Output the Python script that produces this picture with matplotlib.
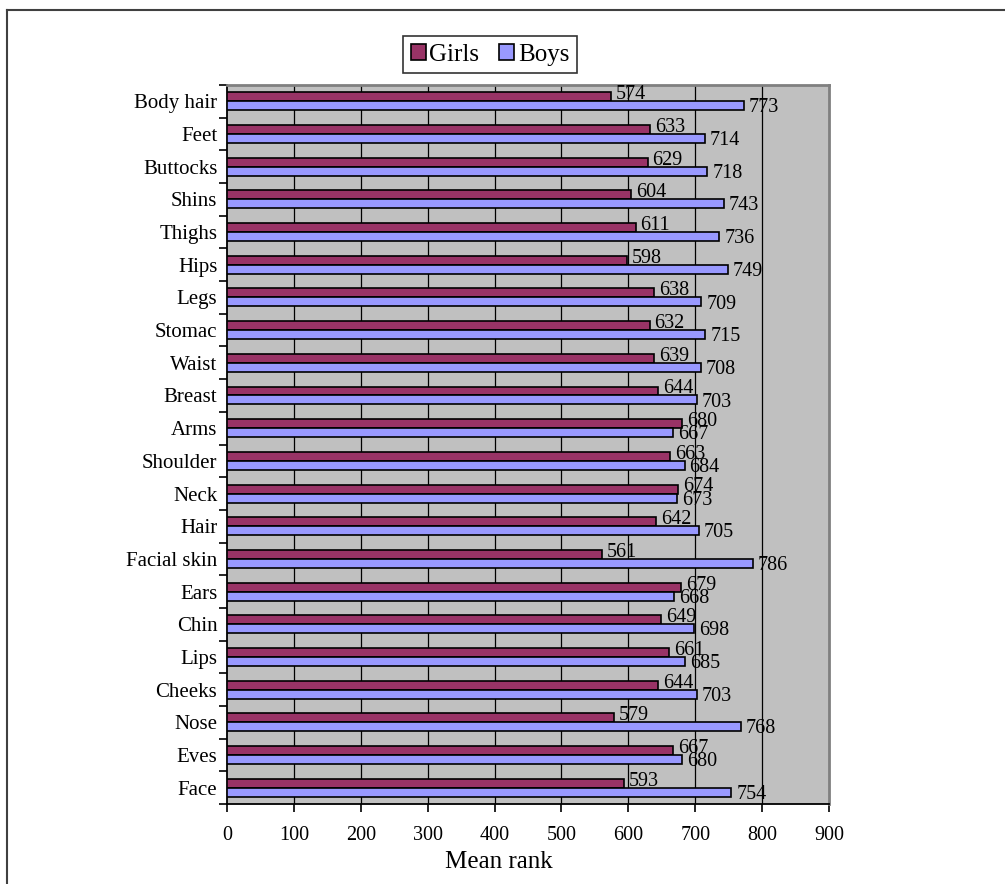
import numpy as np
import matplotlib
matplotlib.use("Agg")
from matplotlib import pyplot as plt
from matplotlib.lines import Line2D

plt.rcParams['font.family'] = ['Liberation Serif', 'DejaVu Serif']

# categories listed bottom to top
parts = ['Face', 'Eves', 'Nose', 'Cheeks', 'Lips', 'Chin', 'Ears', 'Facial skin',
         'Hair', 'Neck', 'Shoulder', 'Arms', 'Breast', 'Waist', 'Stomac', 'Legs',
         'Hips', 'Thighs', 'Shins', 'Buttocks', 'Feet', 'Body hair']
girls = [593, 667, 579, 644, 661, 649, 679, 561, 642, 674, 663, 680, 644, 639,
         632, 638, 598, 611, 604, 629, 633, 574]
boys = [754, 680, 768, 703, 685, 698, 668, 786, 705, 673, 684, 667, 703, 708,
        715, 709, 749, 736, 743, 718, 714, 773]
x_ticks = list(range(0, 1000, 100))

girl_col = '#993366'
boy_col = '#9999FF'

fig = plt.figure(figsize=(10.05, 8.84), dpi=100)
ax = fig.add_axes([0.2259, 0.0905, 0.599, 0.8133])
ax.set_facecolor('#C0C0C0')

y = np.arange(len(parts))
h = 0.275
gb = ax.barh(y + h / 2, girls, height=h, color=girl_col, edgecolor='black',
             linewidth=1.2, label='Girls', zorder=3)
bb = ax.barh(y - h / 2, boys, height=h, color=boy_col, edgecolor='black',
             linewidth=1.2, label='Boys', zorder=3)

for yi, v in zip(y, girls):
    ax.annotate(str(v), (v, yi + h / 2), xytext=(3.5, 1.5), textcoords='offset points',
                va='center', ha='left', fontsize=14.5, zorder=4)
for yi, v in zip(y, boys):
    ax.annotate(str(v), (v, yi - h / 2), xytext=(3.5, -1.5), textcoords='offset points',
                va='center', ha='left', fontsize=14.5, zorder=4)

ax.set_xlim(0, 900)
ax.set_ylim(-0.5, len(parts) - 0.5)
ax.set_xticks(x_ticks)
ax.tick_params(axis='x', labelsize=14.5, length=6, width=1.2, direction='out', pad=10)

# ticks at category boundaries, labels at centres
ax.set_yticks(np.arange(len(parts) + 1) - 0.5)
ax.set_yticklabels([])
ax.set_yticks(y, minor=True)
ax.set_yticklabels(parts, minor=True)
ax.tick_params(axis='y', which='major', length=6, width=1.2, direction='out')
ax.tick_params(axis='y', which='minor', length=0, labelsize=15, pad=7)

for gx in x_ticks[1:-1]:
    ax.axvline(gx, color='black', linewidth=0.9, zorder=1)

for s in ['top', 'right']:
    ax.spines[s].set_color('#808080')
    ax.spines[s].set_linewidth(2)
for s in ['left', 'bottom']:
    ax.spines[s].set_color('black')
    ax.spines[s].set_linewidth(1.3)

W, H = 1005, 884
ax.set_xlabel('Mean rank', fontsize=18)
ax.xaxis.set_label_coords((499 - 227) / (829 - 227), -0.066)

leg = fig.legend(handles=[gb, bb], labels=['Girls', 'Boys'], loc='center',
                 bbox_to_anchor=(0.4876, 0.938), ncol=2, fontsize=18, frameon=True,
                 fancybox=False, edgecolor='black', handlelength=0.6, handleheight=0.6,
                 handletextpad=0.15, columnspacing=0.8, borderpad=0.3)
leg.get_frame().set_linewidth(1.2)

# outer border (top and left only)
fig.add_artist(Line2D([6.5 / W, 1], [1 - 9.5 / H, 1 - 9.5 / H], color='#404040',
                      linewidth=1.5, transform=fig.transFigure))
fig.add_artist(Line2D([7 / W, 7 / W], [0, 1 - 9.5 / H], color='#404040',
                      linewidth=1.5, transform=fig.transFigure))

fig.savefig('out.png', dpi=100)
